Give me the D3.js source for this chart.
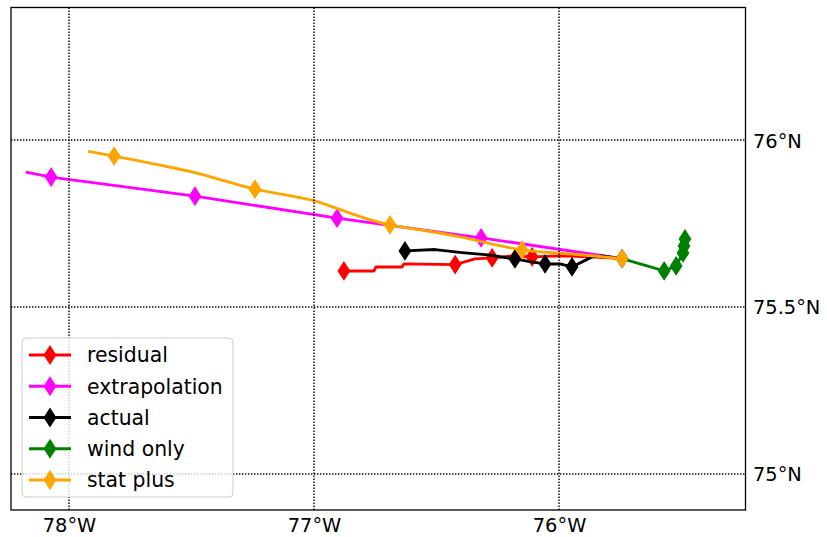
<!DOCTYPE html>
<html>
<head>
<meta charset="utf-8">
<script src="https://cdn.jsdelivr.net/npm/d3@7"></script>
<style>
  body { margin: 0; background: #fff; }
  svg { display: block; }
  text { font-family: "DejaVu Sans", sans-serif; font-size: 19.4px; fill: #000; }
</style>
</head>
<body>
<div id="chart"></div>
<script>
'use strict';

// track positions [lon, lat], markers at given indices
const residualTrack = [
  [-76.878, 75.608], [-76.755, 75.608], [-76.747, 75.620], [-76.641, 75.620],
  [-76.633, 75.629], [-76.424, 75.627], [-76.343, 75.644], [-76.273, 75.647],
  [-76.192, 75.653], [-76.110, 75.650], [-75.996, 75.653], [-75.873, 75.650],
  [-75.743, 75.645]
];
const residualMarks = [0, 5, 7, 9];

const extrapolationTrack = [
  [-78.176, 75.904], [-78.073, 75.889], [-77.486, 75.832], [-76.906, 75.766],
  [-76.318, 75.707], [-75.743, 75.645]
];
const extrapolationMarks = [1, 2, 3, 4, 5];

const actualTrack = [
  [-76.629, 75.668], [-76.506, 75.672], [-76.396, 75.663], [-76.290, 75.656],
  [-76.180, 75.644], [-76.114, 75.635], [-76.057, 75.629], [-75.996, 75.629],
  [-75.947, 75.620], [-75.906, 75.635], [-75.865, 75.650], [-75.824, 75.653],
  [-75.743, 75.645]
];
const actualMarks = [0, 4, 6, 8];

const windOnlyTrack = [
  [-75.743, 75.645], [-75.571, 75.608], [-75.522, 75.623], [-75.494, 75.662],
  [-75.490, 75.683], [-75.486, 75.704]
];
const windOnlyMarks = [0, 1, 2, 3, 4, 5];

const statPlusTrack = [
  [-77.922, 75.966], [-77.816, 75.952], [-77.629, 75.925], [-77.478, 75.901],
  [-77.343, 75.873], [-77.241, 75.853], [-77.004, 75.819], [-76.922, 75.799],
  [-76.812, 75.771], [-76.690, 75.746], [-76.567, 75.731], [-76.404, 75.710],
  [-76.151, 75.671], [-75.955, 75.659], [-75.743, 75.645]
];
const statPlusMarks = [1, 5, 9, 12, 14];

const seriesNames = ['residual', 'extrapolation', 'actual', 'wind only', 'stat plus'];
const seriesColors = ['#ff0000', '#ff00ff', '#000000', '#008000', '#ffa500'];

const lonTicks = [-78, -77, -76];
const latTicks = [75, 75.5, 76];
const lonDomain = [-78.2367, -75.239];
const latDomain = [74.892, 76.397];

const width = 827, height = 537;
const box = { left: 11, top: 7.5, right: 745.5, bottom: 510 };

const series = [
  { track: residualTrack, marks: residualMarks, curve: d3.curveLinear },
  { track: extrapolationTrack, marks: extrapolationMarks, curve: d3.curveLinear },
  { track: actualTrack, marks: actualMarks, curve: d3.curveLinear },
  { track: windOnlyTrack, marks: windOnlyMarks, curve: d3.curveLinear },
  { track: statPlusTrack, marks: statPlusMarks, curve: d3.curveCatmullRom }
].map((s, i) => Object.assign(s, { name: seriesNames[i], color: seriesColors[i] }));

const svg = d3.select('#chart').append('svg')
  .attr('width', width)
  .attr('height', height);

const x = d3.scaleLinear().domain(lonDomain).range([box.left, box.right]);
const y = d3.scaleLinear().domain(latDomain).range([box.bottom, box.top]);

const diamond = (hw, hh) => `M0,${-hh}L${hw},0L0,${hh}L${-hw},0Z`;

svg.append('defs').append('clipPath').attr('id', 'clip')
  .append('rect')
    .attr('x', box.left).attr('y', box.top)
    .attr('width', box.right - box.left).attr('height', box.bottom - box.top);

const plot = svg.append('g').attr('clip-path', 'url(#clip)');

// tracks
series.forEach((s) => {
  const g = plot.append('g');
  const line = d3.line().curve(s.curve).x((d) => x(d[0])).y((d) => y(d[1]));
  g.append('path')
    .attr('d', line(s.track))
    .attr('fill', 'none')
    .attr('stroke', s.color)
    .attr('stroke-width', 2.9)
    .attr('stroke-linejoin', 'round');
  g.selectAll('path.mark')
    .data(s.marks.map((i) => s.track[i]))
    .enter().append('path')
      .attr('class', 'mark')
      .attr('d', diamond(5.7, 8.8))
      .attr('transform', (d) => `translate(${x(d[0])},${y(d[1])})`)
      .attr('fill', s.color)
      .attr('stroke', s.color)
      .attr('stroke-width', 1.2);
});

// gridlines (drawn over the tracks)
const grid = svg.append('g')
  .attr('stroke', '#000')
  .attr('stroke-width', 1.4)
  .attr('stroke-dasharray', '1.4,1.6');
grid.selectAll('line.v')
  .data(lonTicks)
  .enter().append('line')
    .attr('x1', (d) => x(d)).attr('x2', (d) => x(d))
    .attr('y1', box.top).attr('y2', box.bottom);
grid.selectAll('line.h')
  .data(latTicks)
  .enter().append('line')
    .attr('y1', (d) => y(d)).attr('y2', (d) => y(d))
    .attr('x1', box.left).attr('x2', box.right);

// tick labels
const xAxis = svg.append('g')
  .attr('transform', `translate(0,${box.bottom})`)
  .call(d3.axisBottom(x).tickValues(lonTicks).tickSize(0).tickPadding(0)
    .tickFormat((d) => `${Math.abs(d)}°W`));
xAxis.select('.domain').remove();
xAxis.selectAll('text')
  .attr('y', 22)
  .attr('dy', 0);
xAxis.attr('font-size', null).attr('font-family', null);

const yAxis = svg.append('g')
  .attr('transform', `translate(${box.right},0)`)
  .call(d3.axisRight(y).tickValues(latTicks).tickSize(0).tickPadding(0)
    .tickFormat((d) => `${d}°N`));
yAxis.select('.domain').remove();
yAxis.selectAll('text')
  .attr('x', 7.5)
  .attr('dy', '0.36em');
yAxis.attr('font-size', null).attr('font-family', null);

// frame
svg.append('rect')
  .attr('x', box.left).attr('y', box.top)
  .attr('width', box.right - box.left).attr('height', box.bottom - box.top)
  .attr('fill', 'none')
  .attr('stroke', '#000')
  .attr('stroke-width', 1.3);

// legend
const legend = svg.append('g').attr('transform', 'translate(22,338)');
legend.append('rect')
  .attr('x', 0).attr('y', 0)
  .attr('width', 211).attr('height', 159)
  .attr('rx', 4)
  .attr('fill', '#fff')
  .attr('fill-opacity', 0.8)
  .attr('stroke', '#cccccc')
  .attr('stroke-width', 1);
const rows = legend.selectAll('g.row')
  .data(series)
  .enter().append('g')
    .attr('class', 'row')
    .attr('transform', (d, i) => `translate(0,${17 + i * 31.25})`);
rows.append('line')
  .attr('x1', 7).attr('x2', 49)
  .attr('stroke', (d) => d.color)
  .attr('stroke-width', 2.9);
rows.append('path')
  .attr('d', diamond(5.7, 8.8))
  .attr('transform', 'translate(28,0)')
  .attr('fill', (d) => d.color)
  .attr('stroke', (d) => d.color)
  .attr('stroke-width', 1.2);
rows.append('text')
  .attr('x', 65)
  .attr('dy', '0.36em')
  .style('font-size', '20.4px')
  .text((d) => d.name);
</script>
</body>
</html>
